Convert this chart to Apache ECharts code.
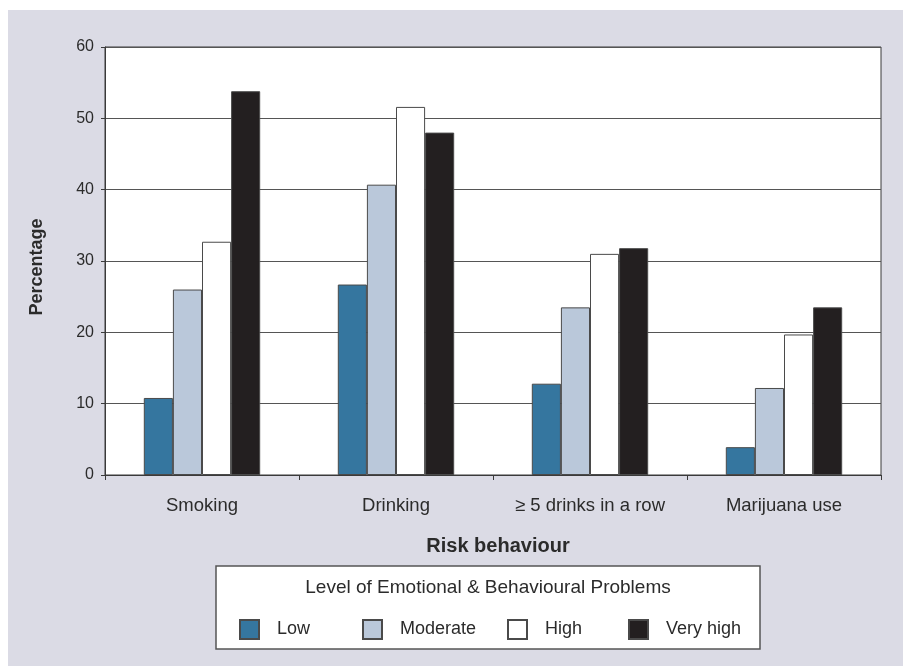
<!DOCTYPE html>
<html>
<head>
<meta charset="utf-8">
<script src="https://cdn.jsdelivr.net/npm/echarts@6/dist/echarts.min.js"></script>
<style>
html,body{margin:0;padding:0;background:#fff;}
#chart{width:903px;height:666px;}
</style>
</head>
<body>
<div id="chart"></div>
<script>
var categories = ['Smoking', 'Drinking', '\u2265 5 drinks in a row', 'Marijuana use'];
var seriesNames = ['Low', 'Moderate', 'High', 'Very high'];
var lowValues = [10.8, 26.7, 12.8, 3.9];
var moderateValues = [26.0, 40.7, 23.5, 12.2];
var highValues = [32.7, 51.6, 31.0, 19.7];
var veryHighValues = [53.8, 48.0, 31.8, 23.5];
var yTicks = [0, 10, 20, 30, 40, 50, 60];

var seriesValues = [lowValues, moderateValues, highValues, veryHighValues];
var colors = ['#35769f', '#bac8da', '#ffffff', '#231f20'];
var FONT = '"Liberation Sans", Arial, sans-serif';
var TXT = '#2b2b2b';

var chart = echarts.init(document.getElementById('chart'));

var legendLefts = [239, 362, 507, 628];
var legends = seriesNames.map(function (n, i) {
  return {
    data: [n],
    left: legendLefts[i],
    top: 619,
    padding: 0,
    itemWidth: 19,
    itemHeight: 19,
    icon: 'rect',
    selectedMode: false,
    textStyle: { fontFamily: FONT, fontSize: 18, color: TXT, padding: [0, 0, 0, 13] }
  };
});

var option = {
  backgroundColor: '#dbdbe5',
  animation: false,
  textStyle: { fontFamily: FONT },
  grid: {
    left: 105, top: 47, right: 22, bottom: 191,
    show: true, backgroundColor: '#ffffff', borderColor: '#3a3a3a', borderWidth: 1
  },
  legend: legends,
  xAxis: {
    type: 'category',
    data: categories,
    axisLine: { lineStyle: { color: '#3a3a3a', width: 1 } },
    axisTick: { show: true, length: 5, lineStyle: { color: '#3a3a3a' } },
    axisLabel: { interval: 0, fontFamily: FONT, fontSize: 18.5, color: TXT, margin: 21 }
  },
  yAxis: {
    type: 'value',
    min: yTicks[0], max: yTicks[yTicks.length - 1], interval: 10,
    axisLine: { show: true, lineStyle: { color: '#3a3a3a', width: 1 } },
    axisTick: { show: true, length: 4, lineStyle: { color: '#3a3a3a' } },
    axisLabel: { fontFamily: FONT, fontSize: 16, color: TXT, margin: 11 },
    splitLine: { lineStyle: { color: '#555555', width: 1 } }
  },
  series: seriesNames.map(function (n, i) {
    return {
      name: n,
      type: 'bar',
      data: seriesValues[i],
      barGap: '0%',
      barCategoryGap: '40%',
      itemStyle: { color: colors[i], borderColor: '#4a4a4a', borderWidth: 1 }
    };
  }),
  graphic: [
    { type: 'rect', shape: { x: 0, y: 0, width: 903, height: 10 }, style: { fill: '#ffffff' }, z: 100 },
    { type: 'rect', shape: { x: 0, y: 0, width: 8, height: 666 }, style: { fill: '#ffffff' }, z: 100 },
    { type: 'text', x: 498, y: 546, style: { text: 'Risk behaviour', font: 'bold 20px ' + FONT, fill: TXT, textAlign: 'center', textVerticalAlign: 'middle' } },
    { type: 'text', x: 37, y: 267, rotation: Math.PI / 2, style: { text: 'Percentage', font: 'bold 18px ' + FONT, fill: TXT, textAlign: 'center', textVerticalAlign: 'middle' } },
    { type: 'rect', shape: { x: 216, y: 566, width: 544, height: 83 }, style: { fill: '#ffffff', stroke: '#555555', lineWidth: 1.5 }, z: 1 },
    { type: 'text', x: 488, y: 588, style: { text: 'Level of Emotional & Behavioural Problems', font: '19px ' + FONT, fill: TXT, textAlign: 'center', textVerticalAlign: 'middle' }, z: 2 }
  ]
};
chart.setOption(option);
</script>
</body>
</html>
